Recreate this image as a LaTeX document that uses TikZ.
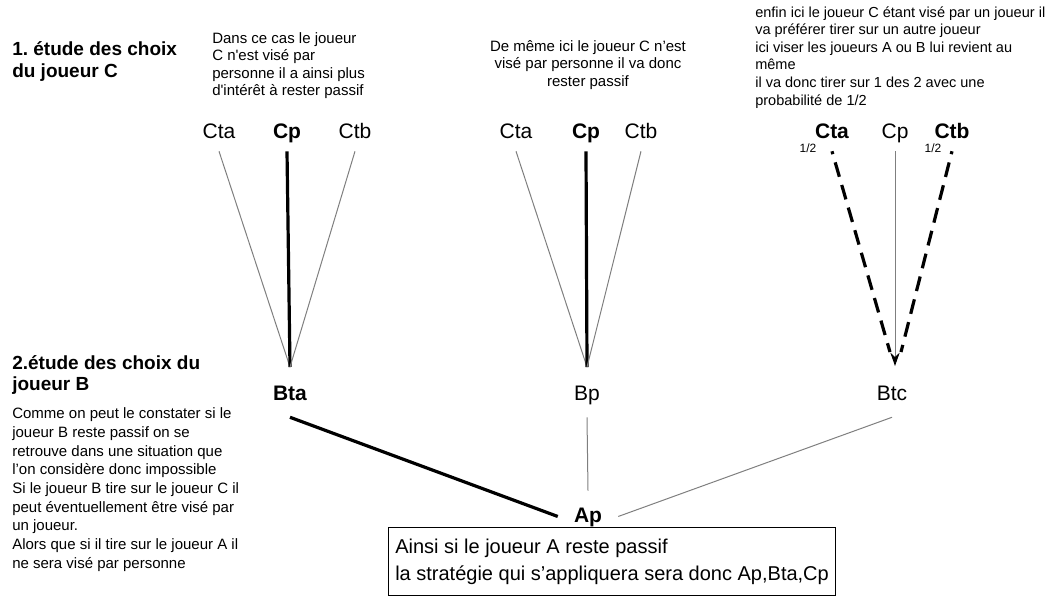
\documentclass[tikz,border=0pt]{standalone}
\usepackage{fontspec}
\setmainfont{Liberation Sans}
\usetikzlibrary{arrows.meta,positioning}
\definecolor{traitgris}{HTML}{7F7F7F}
\frenchspacing
\tikzset{
  titre/.style={font=\fontsize{14.25}{16.5}\selectfont\bfseries,align=left,anchor=base west,inner sep=0pt},
  remarque/.style={font=\fontsize{11.25}{13.1}\selectfont,align=left,anchor=base west,inner sep=0pt},
  choix/.style={font=\fontsize{15.75}{18}\selectfont,anchor=base,inner xsep=2pt,inner ysep=6.75pt,text height=11.3pt,text depth=3pt},
  choixgras/.style={choix,font=\fontsize{15.75}{18}\selectfont\bfseries},
  etapeB/.style={inner ysep=9.75pt},
  proba/.style={font=\fontsize{9}{10}\selectfont,inner sep=0pt},
  bilan/.style={draw,line width=0.9pt,anchor=north west,minimum width=335.25pt,minimum height=51pt,align=left,font=\fontsize{15}{20}\selectfont},
  branche/.style={line width=0.75pt,traitgris},
  branchegras/.style={line width=2.4pt,black},
  branchetir/.style={line width=2.4pt,black,dash pattern=on 11.25pt off 6.4pt,dash phase=9pt}
}
\begin{document}
\begin{tikzpicture}[x={(0.75pt,0)},y={(0,-0.75pt)}]
  \useasboundingbox (0,0) rectangle (1053,597);
  \node[titre] (titreC) at (12,77) {1. étude des choix\\du joueur C};
  \node[remarque] (noteC1) at (212,95.5) {Dans ce cas le joueur\\C n\textquotesingle est visé par\\personne il a ainsi plus\\d\textquotesingle intérêt à rester passif};
  \node[remarque,align=center,anchor=base,font=\fontsize{11.25}{13}\selectfont] (noteC2) at (588,86) {De même ici le joueur C n'est\\visé par personne il va donc\\rester passif};
  \node[remarque,font=\fontsize{10.9}{13.2}\selectfont] (noteC3) at (755,105) {enfin ici le joueur C étant visé par un joueur il\\va préférer tirer sur un autre joueur\\ici viser les joueurs A ou B lui revient au\\même\\il va donc tirer sur 1 des 2 avec une\\probabilité de 1/2};

  \node[choix] (cta1) at (219,138) {Cta};
  \node[choixgras] (cp1) at (287,138) {Cp};
  \node[choix] (ctb1) at (355,138) {Ctb};
  \node[choix] (cta2) at (516,138) {Cta};
  \node[choixgras] (cp2) at (586,138) {Cp};
  \node[choix] (ctb2) at (641,138) {Ctb};
  \node[choixgras] (cta3) at (832,138) {Cta};
  \node[choix] (cp3) at (895,138) {Cp};
  \node[choixgras] (ctb3) at (952,138) {Ctb};
  \node[proba] (pa) at (808,148) {1/2};
  \node[proba] (pb) at (933,148) {1/2};

  \node[choixgras,etapeB] (bta) at (290,400) {Bta};
  \node[choix,etapeB] (bp) at (587,400) {Bp};
  \node[choix,etapeB] (btc) at (892,400) {Btc};
  \node[choixgras,inner sep=12pt] (ap) at (588,522) {Ap};

  \coordinate (v1) at (290,367);
  \coordinate (v2) at (587,367);
  \coordinate (v3) at (895,366);
  \coordinate (v3a) at (890,352);
  \coordinate (v3b) at (901,352);

  \draw[branche] (cta1.south) -- (v1);
  \draw[branchegras] (cp1.south) -- (v1);
  \draw[branche] (ctb1.south) -- (v1);
  \draw[branche] (cta2.south) -- (v2);
  \draw[branchegras] (cp2.south) -- (v2);
  \draw[branche] (ctb2.south) -- (v2);
  \draw[branche,-{Stealth[color=black,length=10pt,width=7pt]}] (cp3.south) -- (v3);
  \draw[branchetir] (cta3.south) -- (v3a);
  \draw[branchetir] (ctb3.south) -- (v3b);

  \draw[branchegras] (bta.south) -- (ap.west);
  \draw[branche] (bp.south) -- (ap.north);
  \draw[branche] (btc.south) -- (ap.east);

  \node[titre,font=\fontsize{14.25}{15.75}\selectfont\bfseries] (titreB) at (12,390) {2.étude des choix du\\joueur B};
  \node[remarque,font=\fontsize{11.25}{14}\selectfont] (noteB) at (12,568) {Comme on peut le constater si le\\joueur B reste passif on se\\retrouve dans une situation que\\l'on considère donc impossible\\Si le joueur B tire sur le joueur C il\\peut éventuellement être visé par\\un joueur.\\Alors que si il tire sur le joueur A il\\ne sera visé par personne};

  \node[bilan] (conclusion) at (388,527) {Ainsi si le joueur A reste passif\\la stratégie qui s'appliquera sera donc Ap,Bta,Cp};
\end{tikzpicture}
\end{document}
